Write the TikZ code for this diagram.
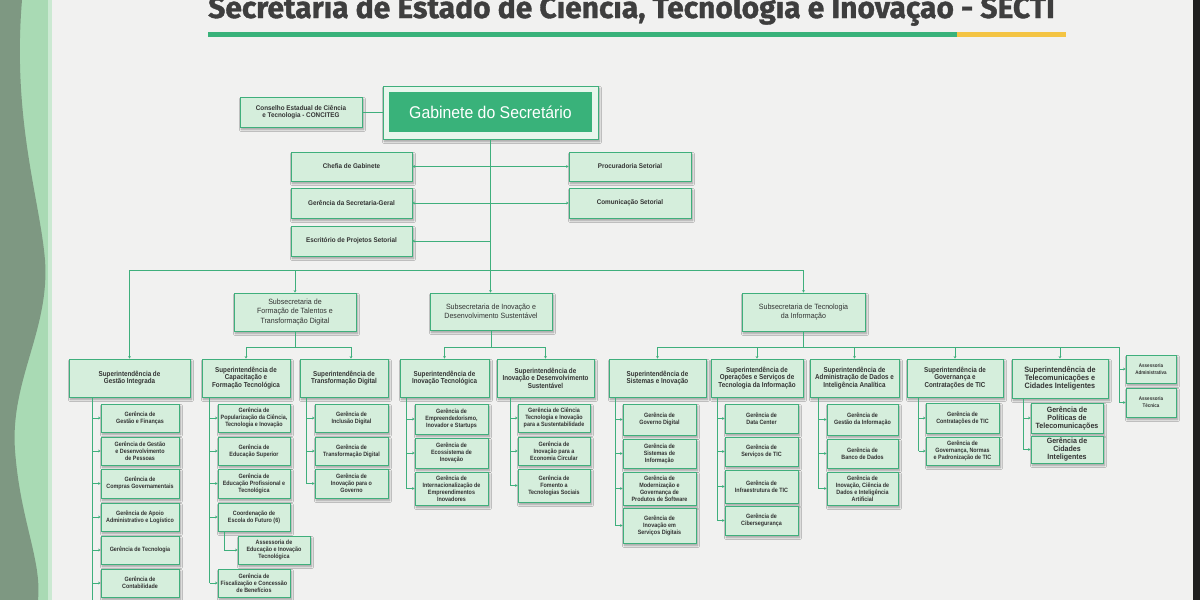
\documentclass[tikz,border=0pt]{standalone}
\usepackage{fontspec}
\setmainfont{Liberation Sans}
\newfontfamily\nar[FakeStretch=0.87]{Liberation Sans}
\newfontfamily\nbr[FakeStretch=0.93]{Liberation Sans}
\newfontfamily\titlef[BoldFeatures={FakeBold=1.2}]{Fira Sans}
\usetikzlibrary{arrows.meta,shadows.blur}
\definecolor{bg}{HTML}{F1F1F0}
\definecolor{gl}{HTML}{3FAF7C}
\definecolor{bf}{HTML}{D5EEDC}
\definecolor{tx}{HTML}{333333}
\definecolor{gd}{HTML}{39B27A}
\definecolor{yl}{HTML}{F4C443}
\definecolor{lg}{HTML}{A9DAB4}
\definecolor{dg}{HTML}{7E9882}
\definecolor{tt}{HTML}{3E3E3E}
\newcommand\gf{\nar\bfseries\fontsize{6.2}{7.1}\selectfont}
\newcommand\supf{\nar\bfseries\fontsize{7.2}{7.6}\selectfont}
\newcommand\subf{\nbr\fontsize{7.6}{9.4}\selectfont}
\newcommand\cf{\nbr\bfseries\fontsize{6.8}{7.4}\selectfont}
\newcommand\telf{\nbr\bfseries\fontsize{7.6}{8}\selectfont}
\newcommand\tsupf{\nbr\bfseries\fontsize{7.8}{8.2}\selectfont}
\newcommand\asf{\nar\bfseries\fontsize{5.2}{7}\selectfont}
\tikzset{
 box/.style={draw=gl,line width=0.9pt,fill=bf,text=tx,align=center,inner sep=0.5pt,font=\gf},
 sh/.style={blur shadow={shadow xshift=1.5pt,shadow yshift=-2.5pt,shadow blur steps=6,shadow opacity=35}},
 ln/.style={draw=gl,line width=1pt},
 arr/.style={ln,-{Stealth[length=2.4pt,width=2.8pt]}},
 arr2/.style={ln,{Stealth[length=2.4pt,width=2.8pt]}-{Stealth[length=2.4pt,width=2.8pt]}},
}
\newcommand\bx[7][]{%
 \pgfmathsetmacro\cx{(#3+#5)/2}\pgfmathsetmacro\cy{(#4+#6)/2}%
 \pgfmathsetmacro\ww{#5-#3}\pgfmathsetmacro\hh{#6-#4}%
 \node[box,sh,minimum width=\ww pt,minimum height=\hh pt,#1] (#2) at (\cx,\cy) {#7};}
\newcommand\spine[4]{%
 \coordinate (#1sp) at ([xshift=#2pt]#1.south west);
 \draw[ln] (#1sp) -- (#1sp |- #4);
 \foreach \ch in {#3} {\draw[arr] (#1sp |- \ch.west) -- (\ch.west);}}
\begin{document}
\begin{tikzpicture}[x=1pt,y=-1pt]
\useasboundingbox (0,0) rectangle (1200,600);
\fill[bg] (0,0) rectangle (1200,600);
% left decoration
\fill[lg] (0,0) rectangle (52,600);
\fill[dg] (0,0) -- (22,0) .. controls (12,120) and (40,200) .. (45,260) .. controls (50,330) and (10,380) .. (15,450) .. controls (20,520) and (42,560) .. (38,600) -- (0,600) -- cycle;
\fill[lg!60!white] (48,0) rectangle (52,600);
\fill[black!88] (1193,0) rectangle (1200,600);
% title
\node[anchor=base west,inner sep=0,text=tt,font=\titlef\bfseries\fontsize{30}{33}\selectfont] (title) at (208,18) {Secretaria de Estado de Ciência, Tecnologia e Inovação - SECTI};
\fill[gd] (208,32) rectangle (957,37);
\fill[yl] (957,32) rectangle (1066,37);
% top
\bx[font=\cf]{cons}{240}{97}{362}{127}{Conselho Estadual de Ciência\\e Tecnologia - CONCITEG}
\bx[fill=bf!55!white]{gab}{383}{86}{598}{139}{}
\node[draw=none,fill=gd,text=white,font=\nbr\fontsize{17}{20}\selectfont,minimum width=203pt,minimum height=40pt,inner sep=0] (gabi) at (490.5,112) {Gabinete do Secretário};
\bx[font=\cf]{chef}{291}{152}{412}{181}{Chefia de Gabinete}
\bx[font=\cf]{sg}{291}{188}{412}{218}{Gerência da Secretaria-Geral}
\bx[font=\cf]{esc}{291}{226}{412}{256}{Escritório de Projetos Setorial}
\bx[font=\cf]{proc}{569}{152}{691}{181}{Procuradoria Setorial}
\bx[font=\cf]{com}{569}{188}{691}{218}{Comunicação Setorial}
% subsecretarias
\bx[font=\subf]{sft}{234}{293}{356}{331}{Subsecretaria de\\Formação de Talentos e\\Transformação Digital}
\bx[font=\subf]{sin}{430}{293}{552}{330}{Subsecretaria de Inovação e\\Desenvolvimento Sustentável}
\bx[font=\subf]{sti}{742}{293}{865}{331}{Subsecretaria de Tecnologia\\da Informação}
% superintendencias
\bx[font=\supf]{gi}{69}{359}{190}{397}{Superintendência de\\Gestão Integrada}
\bx[font=\supf]{cap}{202}{359}{290}{397}{Superintendência de\\Capacitação e\\Formação Tecnológica}
\bx[font=\supf]{td}{300}{359}{388}{397}{Superintendência de\\Transformação Digital}
\bx[font=\supf]{itc}{400}{359}{489}{397}{Superintendência de\\Inovação Tecnológica}
\bx[font=\supf]{ids}{497}{359}{594}{397}{Superintendência de\\Inovação e Desenvolvimento\\Sustentável}
\bx[font=\supf]{si}{609}{359}{706}{397}{Superintendência de\\Sistemas e Inovação}
\bx[font=\supf]{op}{711}{359}{803}{397}{Superintendência de\\Operações e Serviços de\\Tecnologia da Informação}
\bx[font=\supf]{ad}{810}{359}{899}{397}{Superintendência de\\Administração de Dados e\\Inteligência Analítica}
\bx[font=\supf]{gov}{907}{359}{1003}{397}{Superintendência de\\Governança e\\Contratações de TIC}
\bx[font=\tsupf]{tel}{1012}{359}{1108}{398}{Superintendência de\\Telecomunicações e\\Cidades Inteligentes}
\bx[font=\asf]{asA}{1126}{355}{1176}{383}{Assessoria\\Administrativa}
\bx[font=\asf]{asT}{1126}{388}{1176}{417}{Assessoria\\Técnica}
% gerencias: gestao integrada
\bx{g1}{101}{404}{179}{432}{Gerência de\\Gestão e Finanças}
\bx{g2}{101}{437}{179}{465}{Gerência de Gestão\\e Desenvolvimento\\de Pessoas}
\bx{g3}{101}{469}{179}{498}{Gerência de\\Compras Governamentais}
\bx{g4}{101}{503}{179}{531}{Gerência de Apoio\\Administrativo e Logístico}
\bx{g5}{101}{536}{179}{564}{Gerência de Tecnologia}
\bx{g6}{101}{569}{179}{597}{Gerência de\\Contabilidade}
% capacitacao
\bx{c1}{218}{404}{290}{432}{Gerência de\\Popularização da Ciência,\\Tecnologia e Inovação}
\bx{c2}{218}{437}{290}{465}{Gerência de\\Educação Superior}
\bx{c3}{218}{469}{290}{498}{Gerência de\\Educação Profissional e\\Tecnológica}
\bx{c4}{218}{503}{290}{531}{Coordenação de\\Escola do Futuro (6)}
\bx{c5}{238}{536}{310}{564}{Assessoria de\\Educação e Inovação\\Tecnológica}
\bx{c6}{218}{569}{290}{597}{Gerência de\\Fiscalização e Concessão\\de Benefícios}
% transformacao digital
\bx{t1}{315}{404}{388}{432}{Gerência de\\Inclusão Digital}
\bx{t2}{315}{437}{388}{465}{Gerência de\\Transformação Digital}
\bx{t3}{315}{469}{388}{498}{Gerência de\\Inovação para o\\Governo}
% inovacao tecnologica
\bx{i1}{415}{404}{488}{434}{Gerência de\\Empreendedorismo,\\Inovador e Startups}
\bx{i2}{415}{438}{488}{468}{Gerência de\\Ecossistema de\\Inovação}
\bx{i3}{415}{472}{488}{505}{Gerência de\\Internacionalização de\\Empreendimentos\\Inovadores}
% inovacao e desenvolvimento sustentavel
\bx{d1}{518}{404}{590}{432}{Gerência de Ciência\\Tecnologia e Inovação\\para a Sustentabilidade}
\bx{d2}{518}{437}{590}{465}{Gerência de\\Inovação para a\\Economia Circular}
\bx{d3}{518}{469}{590}{502}{Gerência de\\Fomento a\\Tecnologias Sociais}
% sistemas e inovacao
\bx{s1}{623}{404}{696}{435}{Gerência de\\Governo Digital}
\bx{s2}{623}{439}{696}{468}{Gerência de\\Sistemas de\\Informação}
\bx{s3}{623}{472}{696}{505}{Gerência de\\Modernização e\\Governança de\\Produtos de Software}
\bx{s4}{623}{508}{696}{543}{Gerência de\\Inovação em\\Serviços Digitais}
% operacoes
\bx{o1}{725}{404}{798}{433}{Gerência de\\Data Center}
\bx{o2}{725}{437}{798}{466}{Gerência de\\Serviços de TIC}
\bx{o3}{725}{470}{798}{503}{Gerência de\\Infraestrutura de TIC}
\bx{o4}{725}{506}{798}{535}{Gerência de\\Cibersegurança}
% administracao de dados
\bx{a1}{827}{404}{898}{435}{Gerência de\\Gestão da Informação}
\bx{a2}{827}{439}{898}{468}{Gerência de\\Banco de Dados}
\bx{a3}{827}{472}{898}{505}{Gerência de\\Inovação, Ciência de\\Dados e Inteligência\\Artificial}
% governanca
\bx{v1}{926}{403}{999}{433}{Gerência de\\Contratações de TIC}
\bx{v2}{926}{437}{999}{465}{Gerência de\\Governança, Normas\\e Padronização de TIC}
% telecom
\bx[font=\telf]{e1}{1031}{403}{1103}{433}{Gerência de\\Políticas de\\Telecomunicações}
\bx[font=\telf]{e2}{1031}{436}{1103}{463}{Gerência de\\Cidades\\Inteligentes}
% connectors top
\draw[ln] (cons.east) -- (cons.east -| gab.west);
\draw[arr] (gab.south) -- (gab.south |- sin.north);
\draw[arr2] (chef.east) -- (proc.west);
\draw[arr2] (sg.east) -- (com.west);
\draw[arr] (esc.east -| gab.south) -- (esc.east);
\coordinate (bus) at (0,270);
\coordinate (sbus) at (0,347);
\draw[arr2] (gi.north) |- (sti.north |- bus) -- (sti.north);
\draw[arr] (sft.north |- bus) -- (sft.north);
% sub buses
\coordinate (tdin) at ([xshift=7pt]td.north);
\draw[ln] (sft.south) -- (sft.south |- sbus);
\draw[arr2] (cap.north) |- (tdin |- sbus) -- (tdin);
\draw[ln] (sin.south) -- (sin.south |- sbus);
\draw[arr2] (itc.north) |- (ids.north |- sbus) -- (ids.north);
\coordinate (asp) at (1119,347);
\draw[ln] (sti.south) -- (sti.south |- sbus);
\draw[arr2] (si.north) |- (asp) |- (asT.west);
\foreach \s in {op,ad,gov,tel} \draw[arr] (\s.north |- sbus) -- (\s.north);
\draw[arr] (asp |- asA.west) -- (asA.west);
% spines
\coordinate (giend) at (0,600);
\spine{gi}{24}{g1,g2,g3,g4,g5,g6}{giend}
\spine{cap}{8}{c1,c2,c3,c4,c6}{c6.west}
\draw[arr] ([xshift=7pt]c4.south west) |- (c5.west);
\spine{td}{7}{t1,t2,t3}{t3.west}
\spine{itc}{7}{i1,i2,i3}{i3.west}
\spine{ids}{14}{d1,d2,d3}{d3.west}
\spine{si}{7}{s1,s2,s3,s4}{s4.west}
\spine{op}{7}{o1,o2,o3,o4}{o4.west}
\spine{ad}{9}{a1,a2,a3}{a3.west}
\spine{gov}{12}{v1,v2}{v2.west}
\spine{tel}{12}{e1,e2}{e2.west}
\end{tikzpicture}
\end{document}
